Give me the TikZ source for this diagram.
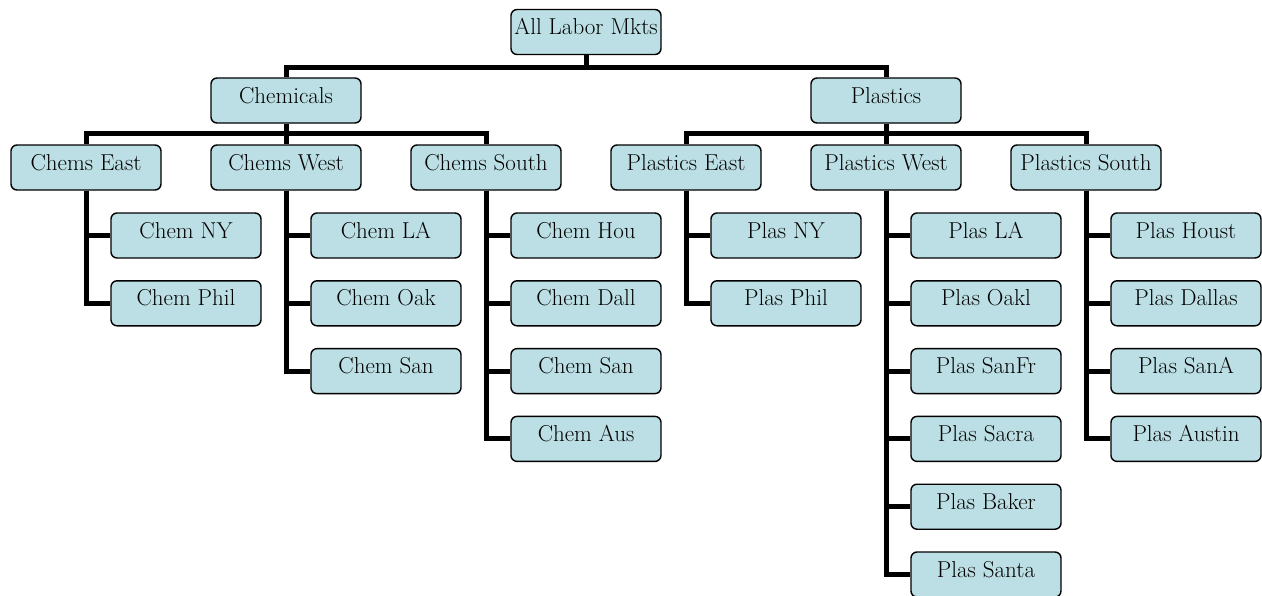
\documentclass[tikz,border=0pt]{standalone}
\usepackage{tikz}
\definecolor{boxfill}{RGB}{187,223,228}
\tikzset{
  box/.style={draw=black, line width=1.4pt, fill=boxfill, rounded corners=6pt,
    minimum width=150pt, minimum height=45pt, inner sep=0pt,
    font=\fontsize{23}{23}\selectfont, text height=14pt, text depth=9pt},
  conn/.style={line width=5pt, line join=miter, draw=black}
}
\begin{document}
\begin{tikzpicture}[x=1pt,y=-1pt]
\useasboundingbox (0,0) rectangle (1262,595);
\coordinate (bus1) at (0,67);
\coordinate (bus2) at (0,133);
% level 0 and 1
\node[box] (top) at (586,32) {All Labor Mkts};
\node[box] (chem) at (286,100.5) {Chemicals};
\node[box] (plas) at (886,100.5) {Plastics};
% level 2
\node[box] (ce) at (86,167.5) {Chems East};
\node[box] (cw) at (286,167.5) {Chems West};
\node[box] (cs) at (486,167.5) {Chems South};
\node[box] (pe) at (686,167.5) {Plastics East};
\node[box] (pw) at (886,167.5) {Plastics West};
\node[box] (ps) at (1086,167.5) {Plastics South};
% leaves
\def\ya{235.5}\def\yb{303.3}\def\yc{371.1}\def\yd{438.9}\def\ye{506.7}\def\yf{574.5}
\node[box] (ce1) at (186,\ya) {Chem NY};
\node[box] (ce2) at (186,\yb) {Chem Phil};
\node[box] (cw1) at (386,\ya) {Chem LA};
\node[box] (cw2) at (386,\yb) {Chem Oak};
\node[box] (cw3) at (386,\yc) {Chem San};
\node[box] (cs1) at (586,\ya) {Chem Hou};
\node[box] (cs2) at (586,\yb) {Chem Dall};
\node[box] (cs3) at (586,\yc) {Chem San};
\node[box] (cs4) at (586,\yd) {Chem Aus};
\node[box] (pe1) at (786,\ya) {Plas NY};
\node[box] (pe2) at (786,\yb) {Plas Phil};
\node[box] (pw1) at (986,\ya) {Plas LA};
\node[box] (pw2) at (986,\yb) {Plas Oakl};
\node[box] (pw3) at (986,\yc) {Plas SanFr};
\node[box] (pw4) at (986,\yd) {Plas Sacra};
\node[box] (pw5) at (986,\ye) {Plas Baker};
\node[box] (pw6) at (986,\yf) {Plas Santa};
\node[box] (ps1) at (1186,\ya) {Plas Houst};
\node[box] (ps2) at (1186,\yb) {Plas Dallas};
\node[box] (ps3) at (1186,\yc) {Plas SanA};
\node[box] (ps4) at (1186,\yd) {Plas Austin};
% connectors
\draw[conn] (top.south) -- (top.south |- bus1);
\draw[conn] (chem.north) |- (top.south |- bus1) -| (plas.north);
\draw[conn] (chem.south) -- (cw.north);
\draw[conn] (ce.north) |- (chem.south |- bus2) -| (cs.north);
\draw[conn] (plas.south) -- (pw.north);
\draw[conn] (pe.north) |- (plas.south |- bus2) -| (ps.north);
\foreach \p/\c in {ce/ce1,ce/ce2,cw/cw1,cw/cw2,cw/cw3,cs/cs1,cs/cs2,cs/cs3,cs/cs4,
  pe/pe1,pe/pe2,pw/pw1,pw/pw2,pw/pw3,pw/pw4,pw/pw5,pw/pw6,ps/ps1,ps/ps2,ps/ps3,ps/ps4}
  \draw[conn] (\p.south) |- (\c.west);
\end{tikzpicture}
\end{document}
